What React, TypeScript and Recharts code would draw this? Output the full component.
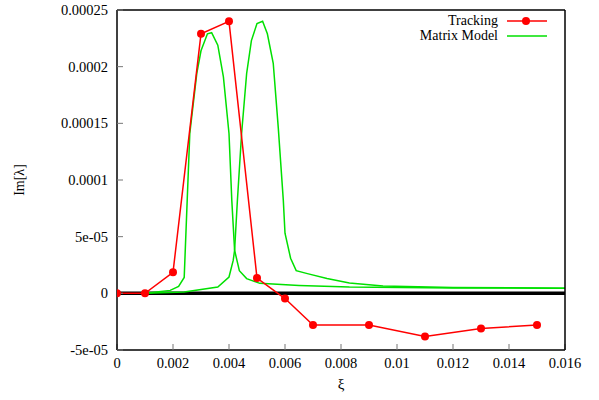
import { LineChart, Line, XAxis, YAxis, ReferenceLine, Label } from 'recharts';

// tracking run
const trackX = [0, 0.001, 0.002, 0.003, 0.004, 0.005, 0.006, 0.007, 0.009, 0.011, 0.013, 0.015];
const trackY = [0, 0, 1.85e-5, 2.29e-4, 2.4e-4, 1.35e-5, -4.6e-6, -2.8e-5, -2.8e-5, -3.8e-5, -3.1e-5, -2.8e-5];

// matrix model, first branch
const modelAX = [0.001, 0.0019, 0.0022, 0.0024, 0.0026, 0.00285, 0.003, 0.00323, 0.00338, 0.0036, 0.0038, 0.004, 0.0041, 0.0042, 0.00437, 0.00463, 0.0051, 0.0065, 0.0083, 0.012, 0.016];
const modelAY = [0, 2.6e-6, 6.2e-6, 1.4e-5, 1.41e-4, 1.94e-4, 2.14e-4, 2.29e-4, 2.3e-4, 2.19e-4, 1.91e-4, 1.41e-4, 8.2e-5, 3.8e-5, 2.0e-5, 1.3e-5, 8.8e-6, 7e-6, 5.6e-6, 4.8e-6, 4.4e-6];

// matrix model, second branch
const modelBX = [0.001, 0.0024, 0.0036, 0.004, 0.00415, 0.0042, 0.0043, 0.00445, 0.00463, 0.0048, 0.005, 0.0052, 0.00537, 0.00558, 0.00576, 0.00594, 0.006, 0.0062, 0.0064, 0.0068, 0.0075, 0.0083, 0.0095, 0.012, 0.016];
const modelBY = [0, 1.1e-6, 5.6e-6, 1.44e-5, 2.9e-5, 3.8e-5, 8.2e-5, 1.41e-4, 1.94e-4, 2.23e-4, 2.38e-4, 2.4e-4, 2.29e-4, 2.03e-4, 1.46e-4, 8.2e-5, 5.3e-5, 3.1e-5, 2.0e-5, 1.74e-5, 1.3e-5, 9.1e-6, 6.5e-6, 5.2e-6, 4.5e-6];

const xTicks = [0, 0.002, 0.004, 0.006, 0.008, 0.01, 0.012, 0.014, 0.016];
const xTickLabels = ['0', '0.002', '0.004', '0.006', '0.008', '0.01', '0.012', '0.014', '0.016'];
const yTicks = [-0.00005, 0, 0.00005, 0.0001, 0.00015, 0.0002, 0.00025];
const yTickLabels = ['-5e-05', '0', '5e-05', '0.0001', '0.00015', '0.0002', '0.00025'];

const trackData = trackX.map((x, i) => ({ x, y: trackY[i] }));
const modelAData = modelAX.map((x, i) => ({ x, y: modelAY[i] }));
const modelBData = modelBX.map((x, i) => ({ x, y: modelBY[i] }));

const FONT = '"Liberation Serif", "Times New Roman", serif';
const RED = '#ff0000';
const GREEN = '#00e000';

const xLabel = (v: number) => {
  const i = xTicks.findIndex(t => Math.abs(t - v) < 1e-9);
  return i >= 0 ? xTickLabels[i] : '';
};
const yLabel = (v: number) => {
  const i = yTicks.findIndex(t => Math.abs(t - v) < 1e-12);
  return i >= 0 ? yTickLabels[i] : '';
};

const tickStyle = { fill: '#000', fontSize: 14.5, fontFamily: FONT };

export default function App() {
  return (
    <div style={{ position: 'absolute', left: 0, top: 0, width: 599, height: 400, background: '#fff' }}>
      <LineChart width={599} height={400} margin={{ top: 9, right: 33, bottom: 20, left: 57 }}>
        <XAxis
          xAxisId="bottom"
          type="number"
          dataKey="x"
          domain={[0, 0.016]}
          ticks={xTicks}
          tickFormatter={xLabel}
          height={30}
          stroke="#000"
          strokeWidth={1.5}
          tickSize={-6}
          tickMargin={14}
          tick={tickStyle}
          tickLine={{ stroke: '#777', strokeWidth: 1 }}
          allowDataOverflow
        >
          <Label value="ξ" position="insideBottom" offset={-9} style={{ fontSize: 15, fontFamily: FONT, fill: '#000' }} />
        </XAxis>
        <XAxis
          xAxisId="top"
          orientation="top"
          type="number"
          dataKey="x"
          domain={[0, 0.016]}
          ticks={xTicks}
          height={1}
          stroke="#000"
          strokeWidth={1.5}
          tickSize={-6}
          tick={false}
          tickLine={{ stroke: '#777', strokeWidth: 1 }}
          allowDataOverflow
        />
        <YAxis
          yAxisId="left"
          type="number"
          domain={[-0.00005, 0.00025]}
          ticks={yTicks}
          tickFormatter={yLabel}
          width={60}
          stroke="#000"
          strokeWidth={1.5}
          tickSize={-6}
          tickMargin={15}
          tick={tickStyle}
          tickLine={{ stroke: '#777', strokeWidth: 1 }}
          allowDataOverflow
        >
          <Label value="Im[λ]" angle={-90} position="insideLeft" offset={-38} style={{ fontSize: 14, fontFamily: FONT, fill: '#000', textAnchor: 'middle' }} />
        </YAxis>
        <YAxis
          yAxisId="right"
          orientation="right"
          type="number"
          domain={[-0.00005, 0.00025]}
          ticks={yTicks}
          width={1}
          stroke="#000"
          strokeWidth={1.5}
          tickSize={-6}
          tick={false}
          tickLine={{ stroke: '#777', strokeWidth: 1 }}
          allowDataOverflow
        />
        <ReferenceLine xAxisId="bottom" yAxisId="left" y={0} stroke="#000" strokeWidth={3.5} />
        <Line
          xAxisId="bottom"
          yAxisId="left"
          data={modelAData}
          dataKey="y"
          type="linear"
          stroke={GREEN}
          strokeWidth={1.5}
          dot={false}
          isAnimationActive={false}
        />
        <Line
          xAxisId="bottom"
          yAxisId="left"
          data={modelBData}
          dataKey="y"
          type="linear"
          stroke={GREEN}
          strokeWidth={1.5}
          dot={false}
          isAnimationActive={false}
        />
        <Line
          xAxisId="bottom"
          yAxisId="left"
          data={trackData}
          dataKey="y"
          type="linear"
          stroke={RED}
          strokeWidth={1.5}
          dot={{ r: 4, fill: RED, stroke: RED, strokeWidth: 0 }}
          isAnimationActive={false}
        />
      </LineChart>
      <div style={{ position: 'absolute', top: 13, left: 380, width: 175, fontFamily: FONT, fontSize: 14, lineHeight: '15px', color: '#000' }}>
        <div style={{ display: 'flex', justifyContent: 'flex-end', alignItems: 'center' }}>
          <span>Tracking</span>
          <svg width={48} height={15} style={{ marginLeft: 9 }}>
            <line x1={0} y1={8} x2={40} y2={8} stroke={RED} strokeWidth={1.5} />
            <circle cx={19} cy={8} r={4} fill={RED} />
          </svg>
        </div>
        <div style={{ display: 'flex', justifyContent: 'flex-end', alignItems: 'center' }}>
          <span>Matrix Model</span>
          <svg width={48} height={15} style={{ marginLeft: 9 }}>
            <line x1={0} y1={8} x2={40} y2={8} stroke={GREEN} strokeWidth={1.5} />
          </svg>
        </div>
      </div>
    </div>
  );
}
